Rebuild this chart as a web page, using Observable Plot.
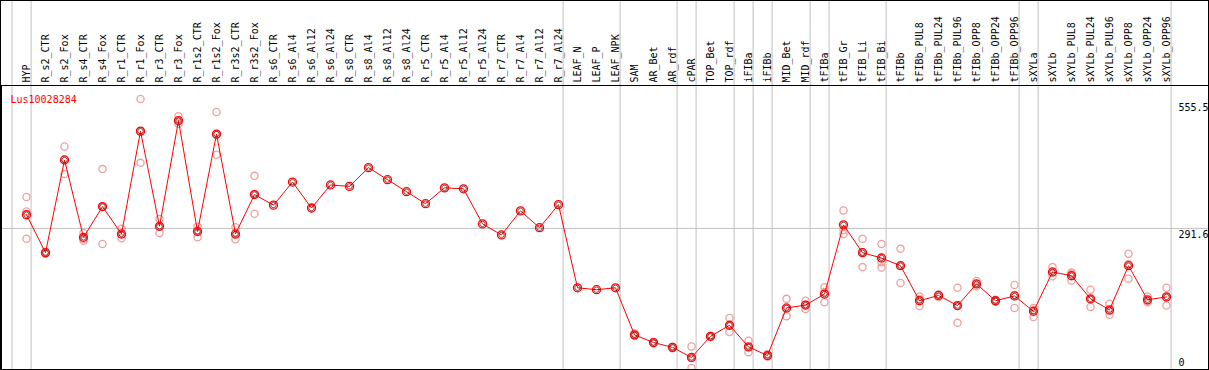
<!DOCTYPE html>
<html>
<head>
<meta charset="utf-8">
<script src="https://cdn.jsdelivr.net/npm/d3@7"></script>
<script src="https://cdn.jsdelivr.net/npm/@observablehq/plot@0.6"></script>
<style>
  html, body { margin: 0; padding: 0; background: #fff; }
  #chart svg { display: block; outline: 1px solid #000; outline-offset: -1px; }
</style>
</head>
<body>
<div id="chart"></div>
<script>
const geneName = "Lus10028284";

const categories = [
  "HYP", "R_s2_CTR", "R_s2_Fox", "R_s4_CTR", "R_s4_Fox", "R_r1_CTR", "R_r1_Fox",
  "R_r3_CTR", "R_r3_Fox", "R_r1s2_CTR", "R_r1s2_Fox", "R_r3s2_CTR", "R_r3s2_Fox",
  "R_s6_CTR", "R_s6_Al4", "R_s6_Al12", "R_s6_Al24", "R_s8_CTR", "R_s8_Al4", "R_s8_Al12",
  "R_s8_Al24", "R_r5_CTR", "R_r5_Al4", "R_r5_Al12", "R_r5_Al24", "R_r7_CTR", "R_r7_Al4",
  "R_r7_Al12", "R_r7_Al24", "LEAF_N", "LEAF_P", "LEAF_NPK", "SAM", "AR_Bet", "AR_rdf",
  "cPAR", "TOP_Bet", "TOP_rdf", "iFIBa", "iFIBb", "MID_Bet", "MID_rdf", "tFIBa",
  "tFIB_Gr", "tFIB_Li", "tFIB_Bi", "tFIBb", "tFIBb_PUL8", "tFIBb_PUL24", "tFIBb_PUL96",
  "tFIBb_OPP8", "tFIBb_OPP24", "tFIBb_OPP96", "sXYLa", "sXYLb", "sXYLb_PUL8",
  "sXYLb_PUL24", "sXYLb_PUL96", "sXYLb_OPP8", "sXYLb_OPP24", "sXYLb_OPP96"
];

const meanValues = [
  320, 241, 434, 273, 337, 280, 494, 296, 516, 285, 488, 280, 362,
  340, 388, 334, 382, 379, 418, 393, 368, 343, 376, 374, 301, 278, 328, 293, 341,
  168, 164, 168, 70, 54, 44, 23, 67, 90, 45, 27, 126, 132, 155,
  299, 241, 230, 214, 141, 152, 131, 176, 141, 151, 119, 201, 193, 145, 122, 214, 143, 149
];

const rep1 = [
  357, 243, 462, 270, 415, 291, 561, 311, 525, 295, 534, 294, 401,
  null, null, null, null, null, null, null, null, null, null, null, null, null, null, null, null,
  null, null, null, 73, 55, 45, 46, 68, 105, 58, 30, 145, 141, 169,
  329, 270, 259, 249, 150, 153, 168, 182, 143, 174, 126, 211, 200, 164, 135, 239, 150, 168
];
const rep2 = [
  270, 239, 405, 266, 259, 271, 428, 282, 509, 273, 445, 269, 322,
  null, null, null, null, null, null, null, null, null, null, null, null, null, null, null, null,
  null, null, null, 68, 52, 42, 1, 65, 76, 34, 25, 109, 124, 138,
  280, 211, 210, 178, 130, 149, 95, 171, 139, 126, 107, 192, 183, 128, 112, 187, 138, 131
];
const rep3 = [
  327, 240, 435, 282, 336, 279, 494, 295, 514, 287, 486, 278, 363,
  null, null, null, null, null, null, null, null, null, null, null, null, null, null, null, null,
  null, null, null, 70, 54, 44, 22, 67, 89, 44, 26, 125, 132, 159,
  288, 242, 221, 214, 144, 154, 130, 176, 141, 153, 122, 200, 197, 144, 120, 217, 141, 149
];

// group separators: drawn just after these categories
const separatorsAfter = [
  "HYP", "R_r7_Al24", "LEAF_NPK", "AR_rdf", "cPAR", "TOP_rdf", "iFIBa", "iFIBb",
  "MID_rdf", "tFIBa", "tFIB_Bi", "tFIBb_OPP96", "sXYLa", "sXYLb_OPP96"
];
const gridValue = 291.6;
const yTickLabels = [555.5, 291.6, 0];

const means = categories.map((c, i) => ({category: c, value: meanValues[i]}));
const reps = [];
categories.forEach((c, i) => {
  for (const r of [rep1, rep2, rep3]) if (r[i] != null) reps.push({category: c, value: r[i]});
});

const font = "DejaVu Sans Mono, monospace";

const chart = Plot.plot({
  width: 1209,
  height: 370,
  marginTop: 85,
  marginBottom: 1,
  marginLeft: 1,
  marginRight: 1,
  style: {fontFamily: font, fontSize: "10px", background: "#fff"},
  x: {type: "point", domain: categories, range: [26, 1166.6], padding: 0, align: 0.5, axis: null, label: null},
  y: {domain: [0, 589], range: [368, 85], axis: null},
  marks: [
    Plot.ruleY([gridValue], {stroke: "#c0c0c0"}),
    Plot.ruleX([categories[0]], {x: d => d, dx: -14.5, insetTop: -85, stroke: "#c0c0c0"}),
    Plot.ruleX(separatorsAfter, {x: d => d, dx: 4.6, insetTop: -85, stroke: "#c0c0c0"}),
    Plot.frame({stroke: "#000"}),
    Plot.axisX({anchor: "top", tickRotate: -90, tickSize: 0, tickPadding: 3, label: null,
      fontSize: 10, fill: "#000", textAnchor: "start", lineAnchor: "middle"}),
    Plot.text([geneName], {text: d => d, frameAnchor: "top-left", dx: 9, dy: 10,
      fill: "#ff0000", fontSize: 10}),
    Plot.text(yTickLabels.filter(v => v > 0), {y: d => d, text: d => String(d),
      frameAnchor: "right", dx: -30, textAnchor: "start", lineAnchor: "top", dy: 2, fill: "#000"}),
    Plot.text(yTickLabels.filter(v => v === 0), {y: d => d, text: d => String(d),
      frameAnchor: "right", dx: -30, textAnchor: "start", lineAnchor: "bottom", dy: -3, fill: "#000"}),
    Plot.dot(reps, {x: "category", y: "value", r: 3.6, stroke: "#f0a0a0", strokeWidth: 1.3, fill: "none"}),
    Plot.line(means, {x: "category", y: "value", stroke: "#ff0000", strokeWidth: 1}),
    Plot.dot(means, {x: "category", y: "value", r: 4, stroke: "#ff0000", strokeWidth: 1.3, fill: "none"}),
    Plot.dot(means, {x: "category", y: "value", r: 2.7, stroke: "#600000", strokeWidth: 0.7, fill: "none"})
  ]
});
document.getElementById("chart").appendChild(chart);
</script>
</body>
</html>
